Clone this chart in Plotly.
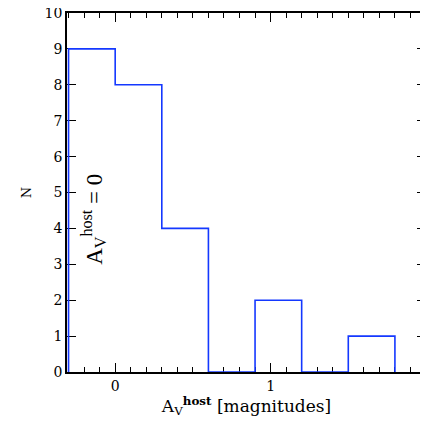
import plotly.graph_objects as go

bin_edges = [-0.3, 0.0, 0.3, 0.6, 0.9, 1.2, 1.5, 1.8]
counts = [9, 8, 4, 0, 2, 0, 1]

# build step outline from the histogram data
xs = [bin_edges[0]]
ys = [0]
for i, c in enumerate(counts):
    xs += [bin_edges[i], bin_edges[i + 1]]
    ys += [c, c]
xs.append(bin_edges[-1])
ys.append(0)

FONT = "DejaVu Serif"
blue = "#1438ff"

fig = go.Figure()
fig.add_trace(go.Scatter(x=xs, y=ys, mode="lines",
                         line=dict(color=blue, width=1.6), hoverinfo="skip"))

fig.add_annotation(x=-0.14, y=4.25, xref="x", yref="y",
                   text="A<sub>V</sub><sup>host</sup> = 0", textangle=-90,
                   showarrow=False, font=dict(family="Liberation Serif", size=23, color="black"))

# page body has an 8px margin, so the figure is sized to fit the 428x421 window
fig.update_layout(
    width=420, height=413,
    margin=dict(l=59, r=2, t=5, b=49),
    paper_bgcolor="white", plot_bgcolor="white",
    showlegend=False,
    font=dict(family=FONT, size=14, color="black"),
)
fig.update_xaxes(
    range=[-0.31, 2.0], tickvals=[0, 1, 2], ticktext=["0", "1", "2"],
    ticks="inside", ticklen=9, tickwidth=1, tickcolor="black",
    minor=dict(dtick=0.1, tick0=0, ticks="inside", ticklen=5, tickcolor="black", tickwidth=1),
    showline=True, linecolor="black", linewidth=1.5, mirror="allticks",
    showgrid=False, zeroline=False, layer="below traces", automargin=False,
    ticklabeloverflow="allow",
    title=dict(text="A<sub>V</sub><sup><b>host</b></sup> [magnitudes]", font=dict(size=17), standoff=4),
)
fig.update_yaxes(
    range=[0, 10], dtick=1,
    ticks="inside", ticklen=9, tickwidth=1, tickcolor="black",
    showline=True, linecolor="black", linewidth=1.5, mirror="allticks",
    showgrid=False, zeroline=False, layer="below traces", automargin=False,
    ticklabeloverflow="allow",
    title=dict(text="N", font=dict(size=13), standoff=10),
)

fig.write_html("out.html")
